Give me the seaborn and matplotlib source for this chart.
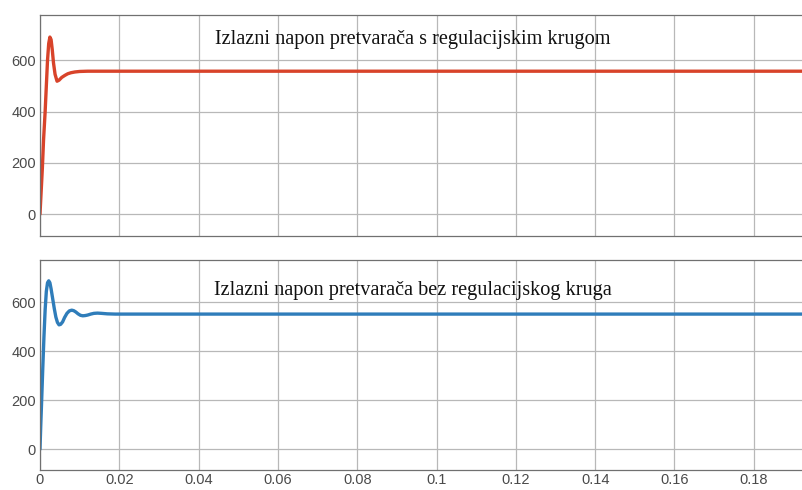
import matplotlib
matplotlib.use("Agg")
import matplotlib.pyplot as plt
import seaborn as sns
import pandas as pd

# Output voltage with the control loop (time in s, voltage in V)
t_reg = [0, 0.0003, 0.0006, 0.0009, 0.0013, 0.0016, 0.0019, 0.0022, 0.0025,
         0.0028, 0.0031, 0.0034, 0.0038, 0.0043, 0.0048, 0.0055, 0.0063,
         0.0070, 0.0078, 0.0088, 0.0100, 0.0120, 0.0200, 0.2000]
v_reg = [0, 90, 180, 290, 400, 500, 600, 665, 690,
         680, 640, 590, 545, 518, 522, 533, 541,
         547, 551, 554, 556, 557, 557, 557]

# Output voltage without the control loop
t_open = [0, 0.0002, 0.0004, 0.0007, 0.0010, 0.0013, 0.0016, 0.0019, 0.0022,
          0.0025, 0.0028, 0.0032, 0.0036, 0.0040, 0.0044, 0.0048, 0.0052,
          0.0057, 0.0062, 0.0068, 0.0074, 0.0080, 0.0085, 0.0090, 0.0096,
          0.0102, 0.0108, 0.0114, 0.0120, 0.0128, 0.0136, 0.0145, 0.0155,
          0.0170, 0.0190, 0.2000]
v_open = [0, 100, 190, 330, 460, 570, 645, 680, 688,
          680, 655, 615, 575, 540, 518, 508, 510,
          520, 538, 555, 565, 568, 566, 561, 553,
          547, 545, 546, 548, 552, 555, 556, 555,
          553, 552, 552]

x_ticks = [0, 0.02, 0.04, 0.06, 0.08, 0.1, 0.12, 0.14, 0.16, 0.18]
x_tick_labels = ["0", "0.02", "0.04", "0.06", "0.08", "0.1", "0.12", "0.14", "0.16", "0.18"]
y_ticks = [0, 200, 400, 600]

title_reg = "Izlazni napon pretvarača s regulacijskim krugom"
title_open = "Izlazni napon pretvarača bez regulacijskog kruga"

sns.set_style("whitegrid")
plt.rcParams["font.family"] = ["Liberation Sans", "DejaVu Sans"]

fig = plt.figure(figsize=(8.03, 4.90), dpi=100, facecolor="white")
ax_top = fig.add_axes([0.0498, 0.5184, 0.9877, 0.4510])
ax_bot = fig.add_axes([0.0498, 0.0408, 0.9877, 0.4286])

df_reg = pd.DataFrame({"t": t_reg, "v": v_reg})
df_open = pd.DataFrame({"t": t_open, "v": v_open})

sns.lineplot(data=df_reg, x="t", y="v", ax=ax_top, color="#D8432A", linewidth=2.4)
sns.lineplot(data=df_open, x="t", y="v", ax=ax_bot, color="#2F7DBA", linewidth=2.4)

for ax, ylim in ((ax_top, (-85, 776)), (ax_bot, (-85, 773))):
    ax.set_xlim(0, 0.2)
    ax.set_ylim(*ylim)
    ax.set_xticks(x_ticks)
    ax.set_yticks(y_ticks)
    ax.set_xlabel("")
    ax.set_ylabel("")
    ax.set_facecolor("white")
    ax.grid(True, color="#B8B8B8", linewidth=0.9)
    ax.set_axisbelow(True)
    for side in ("top", "left", "bottom"):
        ax.spines[side].set_visible(True)
        ax.spines[side].set_color("#707070")
        ax.spines[side].set_linewidth(0.9)
    ax.spines["right"].set_visible(False)
    ax.tick_params(axis="both", direction="in", length=3, width=0.8,
                   color="#707070", labelcolor="#4a4a4a", labelsize=10.5)
    ax.tick_params(axis="y", pad=3)

ax_top.set_xticklabels([])
ax_bot.set_xticklabels(x_tick_labels)
ax_bot.tick_params(axis="x", pad=2)

ax_top.text(0.0441, 679, title_reg, family=["Liberation Serif"], fontsize=14.6,
            ha="left", va="center", color="#111111")
ax_bot.text(0.0439, 650, title_open, family=["Liberation Serif"], fontsize=14.6,
            ha="left", va="center", color="#111111")

fig.savefig("out.png", dpi=100, facecolor="white")
